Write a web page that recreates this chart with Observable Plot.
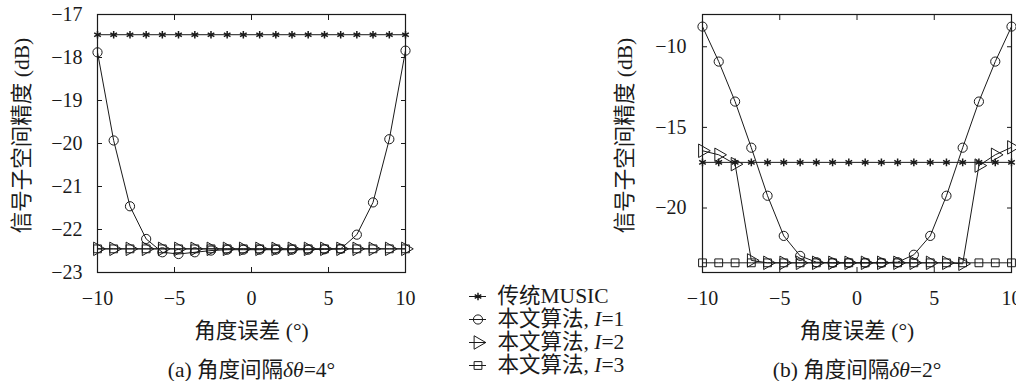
<!DOCTYPE html>
<html><head><meta charset="utf-8">
<script src="https://cdn.jsdelivr.net/npm/d3@7"></script>
<script src="https://cdn.jsdelivr.net/npm/@observablehq/plot@0.6"></script>
<style>
body{margin:0;background:#fff;}
#root{position:relative;width:1016px;height:381px;overflow:hidden;background:#fff;}
#root svg{position:absolute;overflow:visible;}
</style></head><body><div id="root"></div>
<script>
// ---- data ----
const angleError = [-10, -8.95, -7.89, -6.84, -5.79, -4.74, -3.68, -2.63, -1.58, -0.53, 0.53, 1.58, 2.63, 3.68, 4.74, 5.79, 6.84, 7.89, 8.95, 10];
// panel (a) δθ = 4°
const musicA = [-17.47, -17.47, -17.47, -17.47, -17.47, -17.47, -17.47, -17.47, -17.47, -17.47, -17.47, -17.47, -17.47, -17.47, -17.47, -17.47, -17.47, -17.47, -17.47, -17.47];
const i1A = [-17.88, -19.93, -21.46, -22.22, -22.53, -22.57, -22.53, -22.49, -22.47, -22.47, -22.47, -22.47, -22.47, -22.47, -22.46, -22.45, -22.12, -21.37, -19.90, -17.84];
const i2A = [-22.45, -22.45, -22.45, -22.45, -22.45, -22.45, -22.45, -22.45, -22.45, -22.45, -22.45, -22.45, -22.45, -22.45, -22.45, -22.45, -22.45, -22.45, -22.45, -22.45];
const i3A = [-22.45, -22.45, -22.45, -22.45, -22.45, -22.45, -22.45, -22.45, -22.45, -22.45, -22.45, -22.45, -22.45, -22.45, -22.45, -22.45, -22.45, -22.45, -22.45, -22.45];
// panel (b) δθ = 2°
const musicB = [-17.17, -17.17, -17.17, -17.17, -17.17, -17.17, -17.17, -17.17, -17.17, -17.17, -17.17, -17.17, -17.17, -17.17, -17.17, -17.17, -17.17, -17.17, -17.17, -17.17];
const i1B = [-8.75, -10.92, -13.40, -16.26, -19.24, -21.73, -22.97, -23.36, -23.40, -23.40, -23.40, -23.40, -23.36, -22.90, -21.73, -19.24, -16.26, -13.40, -10.92, -8.75];
const i2B = [-16.45, -16.70, -17.28, -23.25, -23.40, -23.40, -23.40, -23.40, -23.40, -23.40, -23.40, -23.40, -23.40, -23.40, -23.40, -23.40, -23.46, -17.37, -16.70, -16.24];
const i3B = [-23.40, -23.40, -23.40, -23.40, -23.40, -23.40, -23.40, -23.40, -23.40, -23.40, -23.40, -23.40, -23.40, -23.40, -23.40, -23.40, -23.40, -23.40, -23.40, -23.40];
// ticks & labels
const xTicks = [-10, -5, 0, 5, 10];
const yTicksA = [-23, -22, -21, -20, -19, -18, -17];
const yTicksB = [-20, -15, -10];
const yDomainA = [-23, -17];
const yDomainB = [-24, -8];
const seriesNames = ["传统MUSIC", "本文算法, I=1", "本文算法, I=2", "本文算法, I=3"];
const yLabel = "信号子空间精度 (dB)";
const xLabel = "角度误差 (°)";
const captionA = "(a) 角度间隔δθ=4°";
const captionB = "(b) 角度间隔δθ=2°";

// ---- style ----
const FONT = "'Liberation Serif','Noto Sans CJK SC',serif";
const INK = "#1a1a1a";
const LABEL_SIZE = 21.5;
const SYM = [
  {symbol: "asterisk", r: 3.6, strokeWidth: 1.5},
  {symbol: "circle", r: 4.6, strokeWidth: 1},
  {symbol: "triangle", r: 5, rotate: 90, strokeWidth: 1},
  {symbol: "square", r: 4.4, strokeWidth: 1}
];

function rows(vals) { return angleError.map((x, i) => ({x, y: vals[i]})); }

function panel({left, width, marginLeft, marginRight, yDomain, yTicks, series, caption, yPad, yLabelDx}) {
  const marks = [
    Plot.axisX({anchor: "bottom", ticks: xTicks, tickSize: -5, tickPadding: 23, tickFormat: "d", label: null, stroke: INK, fill: INK}),
    Plot.axisX({anchor: "top", ticks: xTicks, tickSize: -5, tickFormat: () => "", label: null, stroke: INK}),
    Plot.axisY({anchor: "left", ticks: yTicks, tickSize: -5, tickPadding: yPad, tickFormat: "d", label: null, stroke: INK, fill: INK}),
    Plot.axisY({anchor: "right", ticks: yTicks, tickSize: -5, tickFormat: () => "", label: null, stroke: INK})
  ];
  series.forEach((vals, i) => {
    const d = rows(vals);
    marks.push(Plot.line(d, {x: "x", y: "y", stroke: INK, strokeWidth: 1}));
    marks.push(Plot.dot(d, {x: "x", y: "y", ...SYM[i], stroke: INK, fill: "none"}));
  });
  marks.push(Plot.frame({stroke: INK, strokeWidth: 1.2}));
  marks.push(Plot.text([yLabel], {text: d => d, frameAnchor: "left", textAnchor: "middle", rotate: -90, dx: yLabelDx, dy: -8, fontSize: LABEL_SIZE, fill: INK}));
  marks.push(Plot.text([xLabel], {text: d => d, frameAnchor: "bottom", textAnchor: "middle", dy: 65, fontSize: LABEL_SIZE, fill: INK}));
  marks.push(Plot.text([caption], {text: d => d, frameAnchor: "bottom", textAnchor: "middle", dy: 104, fontSize: LABEL_SIZE, fill: INK}));
  const svg = Plot.plot({
    width, height: 381, marginLeft, marginRight, marginTop: 14, marginBottom: 109,
    x: {domain: [-10, 10]}, y: {domain: yDomain},
    style: {fontFamily: FONT, fontSize: "20px", color: INK, background: "transparent"},
    marks
  });
  svg.style.left = left + "px";
  svg.style.top = "0px";
  return svg;
}

function legendPlot() {
  const marks = [Plot.ruleY(seriesNames, {y: d => d, stroke: INK, strokeWidth: 1})];
  seriesNames.forEach((n, i) => {
    marks.push(Plot.dot([n], {y: d => d, frameAnchor: "middle", ...SYM[i], stroke: INK, fill: "none"}));
  });
  marks.push(Plot.text(seriesNames, {y: d => d, text: d => d, frameAnchor: "right", textAnchor: "start", dx: 11, fontSize: LABEL_SIZE, fill: INK}));
  const svg = Plot.plot({
    width: 190, height: 97, marginLeft: 9, marginRight: 164, marginTop: 14, marginBottom: 12,
    x: {domain: [0, 1], axis: null},
    y: {type: "point", domain: seriesNames, padding: 0, axis: null},
    style: {fontFamily: FONT, fontSize: "20px", color: INK, background: "transparent"},
    marks
  });
  svg.style.left = "460px";
  svg.style.top = "281px";
  return svg;
}

function italicize(root) {
  root.querySelectorAll("text").forEach(t => {
    if (t.querySelector("tspan")) return;
    const s = t.textContent;
    if (!/(I=|δθ)/.test(s)) return;
    const parts = s.split(/(I(?==)|δθ)/);
    t.textContent = "";
    parts.forEach(p => {
      if (!p) return;
      const ts = document.createElementNS("http://www.w3.org/2000/svg", "tspan");
      ts.textContent = p;
      if (p === "I" || p === "δθ") ts.setAttribute("font-style", "italic");
      t.appendChild(ts);
    });
  });
}

const root = document.getElementById("root");
root.appendChild(panel({left: 0, width: 420, marginLeft: 97, marginRight: 15, yDomain: yDomainA, yTicks: yTicksA,
  series: [musicA, i1A, i2A, i3A], caption: captionA, yPad: 20, yLabelDx: -75}));
root.appendChild(panel({left: 600, width: 416, marginLeft: 102, marginRight: 5, yDomain: yDomainB, yTicks: yTicksB,
  series: [musicB, i1B, i2B, i3B], caption: captionB, yPad: 21, yLabelDx: -77}));
root.appendChild(legendPlot());
italicize(root);
</script>
</body></html>
